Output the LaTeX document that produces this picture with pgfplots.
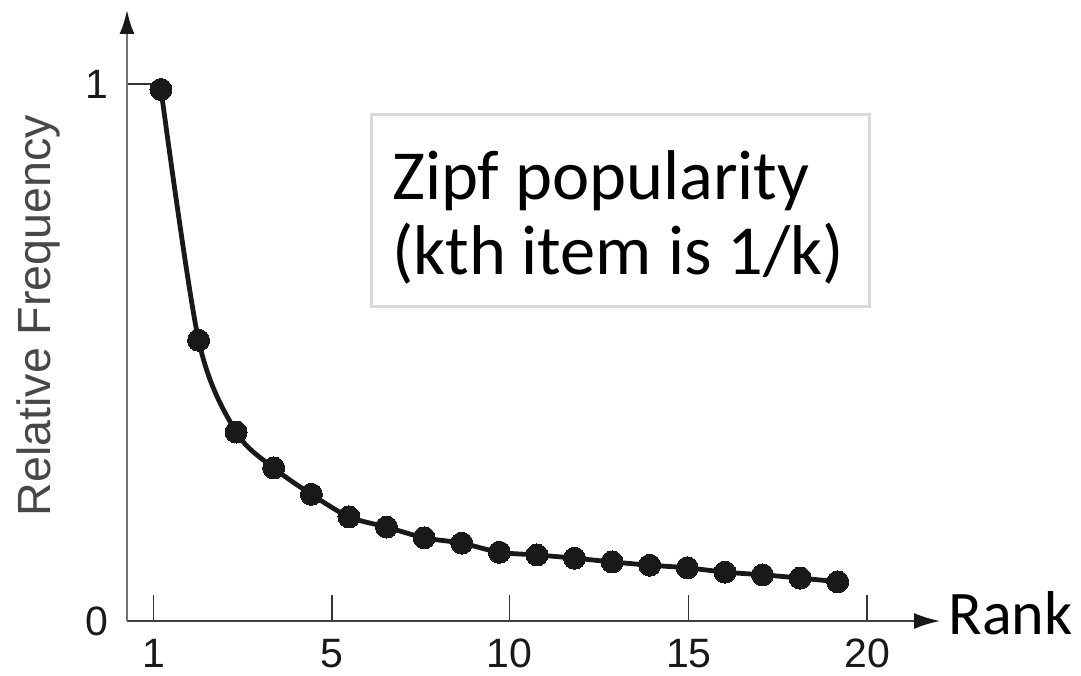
\documentclass[border=0pt]{standalone}
\usepackage{pgfplots}
\pgfplotsset{compat=1.18}
\usepackage{fontspec}
\setmainfont{Liberation Sans}
\newfontfamily\calibri{Carlito}
\usetikzlibrary{arrows.meta}
\begin{document}
\begin{tikzpicture}
\useasboundingbox (-63.5pt,-27pt) rectangle (477pt,310.5pt);
\begin{axis}[
  at={(0pt,0pt)}, anchor=south west,
  scale only axis, width=406.5pt, height=305.5pt,
  xmin=0.096, xmax=21.72, ymin=0, ymax=1.138,
  clip=false,
  axis lines=left,
  x axis line style={-{Latex[length=13pt,width=8pt,color=black!90]}, line width=1pt, draw=black!75},
  y axis line style={-{Latex[length=12pt,width=7.5pt,color=black!90]}, line width=1.2pt, draw=black!55},
  xtick={0.81,5.55,10.26,15.04,19.78}, xticklabels={1,5,10,15,20},
  ytick={0,1}, yticklabels={0,1},
  tick align=inside, major tick length=13pt,
  tick style={draw=black!80, line width=0.6pt},
  /pgf/number format/assume math mode=true,
  ticklabel style={font=\fontsize{20.5}{24}\selectfont, text=black!90},
  xticklabel style={yshift=-5.5pt},
  yticklabel style={xshift=-6pt},
  xlabel={Rank},
  ylabel={Relative Frequency},
  every axis x label/.style={at={(axis description cs:1,0)}, anchor=base west, inner sep=0pt, xshift=4pt, yshift=-6.5pt, font=\calibri\fontsize{31}{37}\selectfont},
  every axis y label/.style={at={(axis description cs:-0.1095,0.5)}, rotate=90, anchor=center, font=\fontsize{23.3}{28}\selectfont, text=black!72},
]
\addplot[black!90, line width=2.4pt, smooth, mark=*, mark size=5.5pt,
  mark options={fill=black!90, draw=black!90, line width=0pt}] table {
x y
1 0.99
2 0.523
3 0.352
4 0.285
5 0.236
6 0.194
7 0.175
8 0.155
9 0.145
10 0.128
11 0.123
12 0.117
13 0.110
14 0.104
15 0.099
16 0.091
17 0.086
18 0.080
19 0.073
};
\end{axis}
\node[draw=black!15, line width=1.5pt, anchor=south west, minimum width=249pt, minimum height=96pt, inner sep=0pt] at (121.5pt,156.5pt) {};
\node[anchor=base west, inner sep=0pt, align=left, font=\calibri\fontsize{35.2}{37.5}\selectfont] at (132.5pt,173pt) {Zipf popularity\\(kth item is 1/k)};
\end{tikzpicture}
\end{document}
